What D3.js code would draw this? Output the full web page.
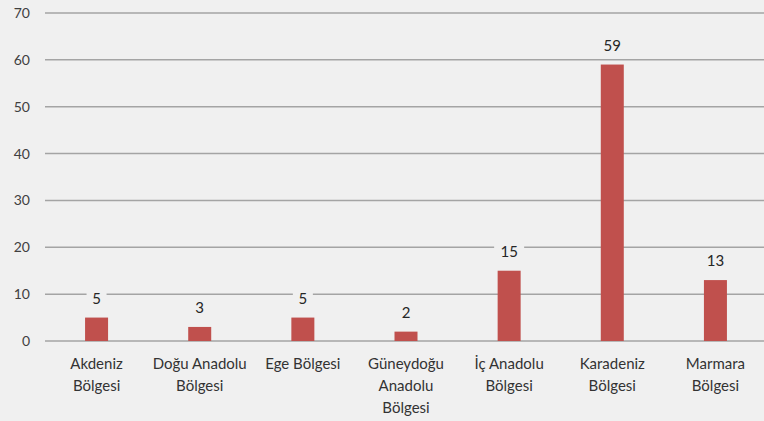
<!DOCTYPE html>
<html><head><meta charset="utf-8">
<script src="https://cdn.jsdelivr.net/npm/d3@7"></script>
<style>html,body{margin:0;padding:0;background:#f0f0f0;}svg{display:block;}</style>
</head><body>
<svg id="c" width="764" height="421"></svg>
<script>
const categories = [["Akdeniz","Bölgesi"],["Doğu Anadolu","Bölgesi"],["Ege Bölgesi"],["Güneydoğu","Anadolu","Bölgesi"],["İç Anadolu","Bölgesi"],["Karadeniz","Bölgesi"],["Marmara","Bölgesi"]];
const values = [5,3,5,2,15,59,13];
const yTicks = [0,10,20,30,40,50,60,70];

const svg = d3.select("#c");
const W = 764, H = 421;
svg.append("rect").attr("width",W).attr("height",H).attr("fill","#f0f0f0");
const font = "Lato, 'Open Sans', sans-serif";
const keys = categories.map((c,i)=>String(i));
const x = d3.scaleBand().domain(keys).range([45,767]).padding(0);
const y = d3.scaleLinear().domain([0,70]).range([341,13]);

// gridlines
svg.append("g").selectAll("line").data(yTicks).join("line")
  .attr("x1",45).attr("x2",W).attr("y1",d=>y(d)).attr("y2",d=>y(d))
  .attr("stroke","#a4a4a4").attr("stroke-width",1.5);

// y axis labels
const yAxis = d3.axisLeft(y).tickValues(yTicks).tickSize(0).tickPadding(0);
const ga = svg.append("g").attr("transform","translate(30,0)").call(yAxis);
ga.select(".domain").remove();
ga.selectAll("text").attr("font-family",font).attr("font-size",14).attr("fill","#404040");

const bw = 23;
svg.append("g").selectAll("rect").data(values).join("rect")
  .attr("x",(d,i)=>x(keys[i])+x.bandwidth()/2-bw/2)
  .attr("width",bw)
  .attr("y",d=>y(d)).attr("height",d=>y(0)-y(d))
  .attr("fill","#c0504d");

// value labels with background
const vl = svg.append("g").selectAll("g").data(values).join("g")
  .attr("transform",(d,i)=>`translate(${x(keys[i])+x.bandwidth()/2},${y(d)-14})`);
vl.append("rect").attr("x",d=>-String(d).length*5-5).attr("y",-13).attr("width",d=>String(d).length*10+10).attr("height",17).attr("fill","#f0f0f0");
vl.append("text").attr("text-anchor","middle").attr("font-family",font).attr("font-size",15)
  .attr("fill","#262626").text(d=>d);

// category labels
const cl = svg.append("g").selectAll("text").data(categories).join("text")
  .attr("text-anchor","middle").attr("font-family",font).attr("font-size",15).attr("fill","#333333")
  .attr("x",(d,i)=>x(keys[i])+x.bandwidth()/2).attr("y",369);
cl.selectAll("tspan").data(d=>d).join("tspan")
  .attr("x",function(){return this.parentNode.getAttribute("x");})
  .attr("dy",(d,j)=>j===0?0:22).text(d=>d);
</script>
</body></html>
